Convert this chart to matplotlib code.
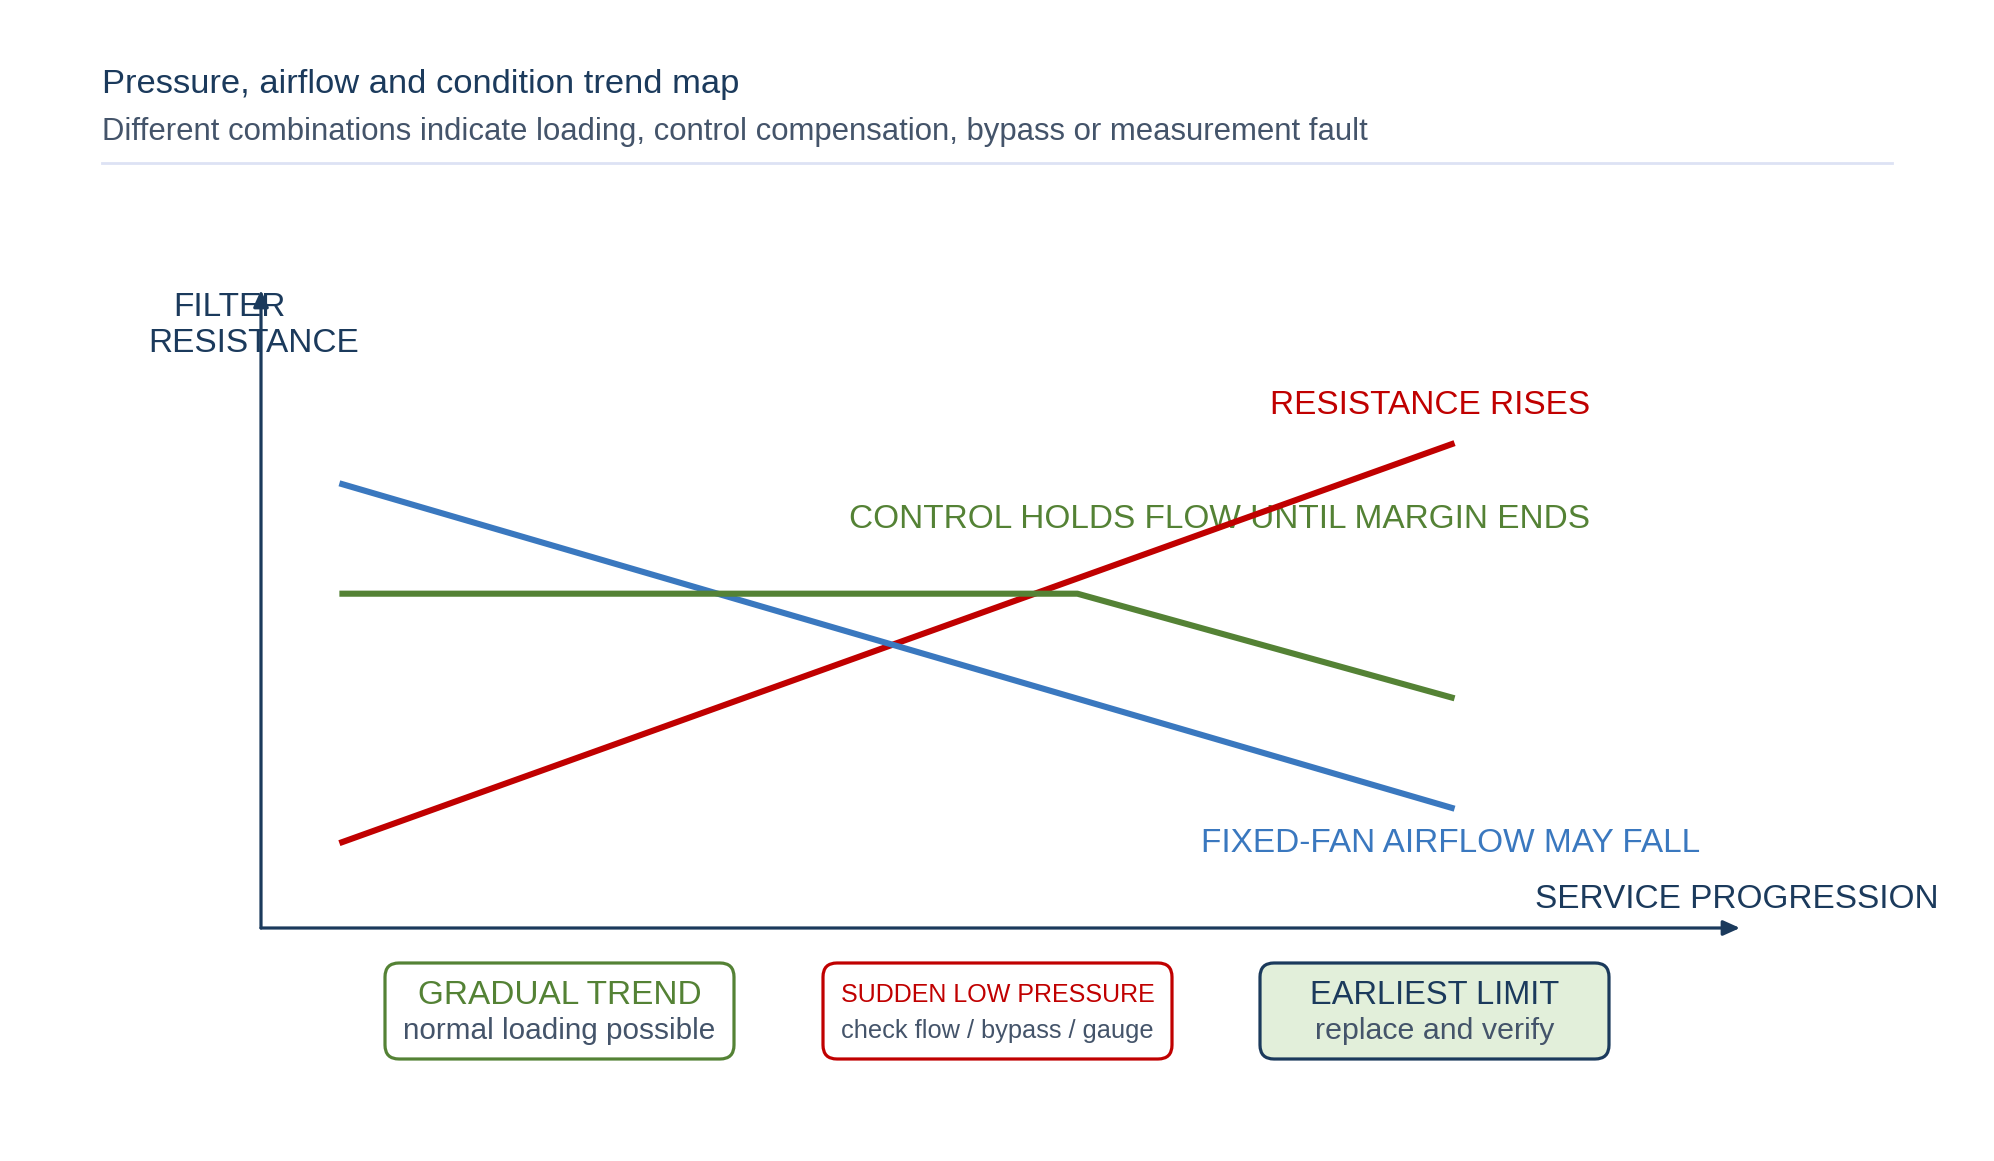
import matplotlib.pyplot as plt
from matplotlib.patches import FancyBboxPatch

plt.rcParams['font.family'] = ['Liberation Sans', 'DejaVu Sans']

# Данные (условные единицы, 0..100 по обеим осям)
progress = [5.3, 55.2, 80.7]
resistance = [13.3, 44.7, 76.0]          # красная линия
fixed_fan_airflow = [69.7, 44.1, 18.7]   # синяя линия
controlled_flow = [52.4, 52.4, 36.0]     # зелёная линия

line_labels = ['RESISTANCE RISES', 'CONTROL HOLDS FLOW UNTIL MARGIN ENDS',
               'FIXED-FAN AIRFLOW MAY FALL']
box_titles = ['GRADUAL TREND', 'SUDDEN LOW PRESSURE', 'EARLIEST LIMIT']
box_notes = ['normal loading possible', 'check flow / bypass / gauge',
             'replace and verify']

RED = '#c00000'
BLUE = '#3a78bf'
GREEN = '#548235'
NAVY = '#1b3a5c'
GREY = '#44546a'

W, H = 1994, 1161
fig = plt.figure(figsize=(W / 100, H / 100), dpi=100)

# Оверлей для заголовков и плашек (пиксельные координаты)
ov = fig.add_axes([0, 0, 1, 1])
ov.set_xlim(0, W)
ov.set_ylim(H, 0)
ov.axis('off')

ov.text(102, 84, 'Pressure, airflow and condition trend map', fontsize=24.8,
        color=NAVY, va='center')
ov.text(102, 132, 'Different combinations indicate loading, control compensation, '
        'bypass or measurement fault', fontsize=22.4, color=GREY, va='center')
ov.plot([102, 1892], [163, 163], color='#dde2f4', lw=2)

# Основной график
x0, x1, y0, y1 = 261, 1740, 928, 290
ax = fig.add_axes([x0 / W, 1 - y0 / H, (x1 - x0) / W, (y0 - y1) / H])
ax.set_xlim(0, 100)
ax.set_ylim(0, 100)
ax.axis('off')
ax.patch.set_alpha(0)

ax.plot(progress[::2], resistance[::2], color=RED, lw=4.4, solid_capstyle='butt')
ax.plot(progress[::2], fixed_fan_airflow[::2], color=BLUE, lw=4.4, solid_capstyle='butt')
ax.plot(progress, controlled_flow, color=GREEN, lw=4.4, solid_capstyle='butt')

# Оси со стрелками
arrow = dict(arrowstyle='-|>,head_length=1.0,head_width=0.45', color=NAVY, lw=2.3,
             shrinkA=0, shrinkB=0)
ax.annotate('', xy=(0, 1), xytext=(0, 0), xycoords='axes fraction', arrowprops=arrow)
ax.annotate('', xy=(1, 0), xytext=(0, 0), xycoords='axes fraction', arrowprops=arrow)

ov.text(229, 307, 'FILTER', fontsize=24, color=NAVY, ha='center', va='center')
ov.text(254, 343, 'RESISTANCE', fontsize=24, color=NAVY, ha='center', va='center')
ov.text(1939, 899, 'SERVICE PROGRESSION', fontsize=24, color=NAVY, ha='right',
        va='center')

# Подписи линий
ov.text(1590, 406, line_labels[0], fontsize=24, color=RED, ha='right', va='center')
ov.text(1590, 520, line_labels[1], fontsize=24, color=GREEN, ha='right', va='center')
ov.text(1700, 843, line_labels[2], fontsize=24, color=BLUE, ha='right', va='center')

# Плашки
box_x = [385, 823, 1260]
edges = [GREEN, RED, NAVY]
fills = ['white', 'white', '#e2efda']
title_colors = [GREEN, RED, NAVY]
title_sizes = [24, 18, 23.5]
note_sizes = [21.4, 18.3, 21.9]
for bx, t, n, ec, fc, tc, ts, ns in zip(box_x, box_titles, box_notes, edges, fills,
                                        title_colors, title_sizes, note_sizes):
    ov.add_patch(FancyBboxPatch((bx, 963), 349, 96,
                                boxstyle='round,pad=0,rounding_size=14',
                                fc=fc, ec=ec, lw=2.3))
    ov.text(bx + 174.5, 995, t, fontsize=ts, color=tc, ha='center', va='center')
    ov.text(bx + 174.5, 1031, n, fontsize=ns, color=GREY, ha='center', va='center')

fig.savefig('out.png', dpi=100, facecolor='white')
